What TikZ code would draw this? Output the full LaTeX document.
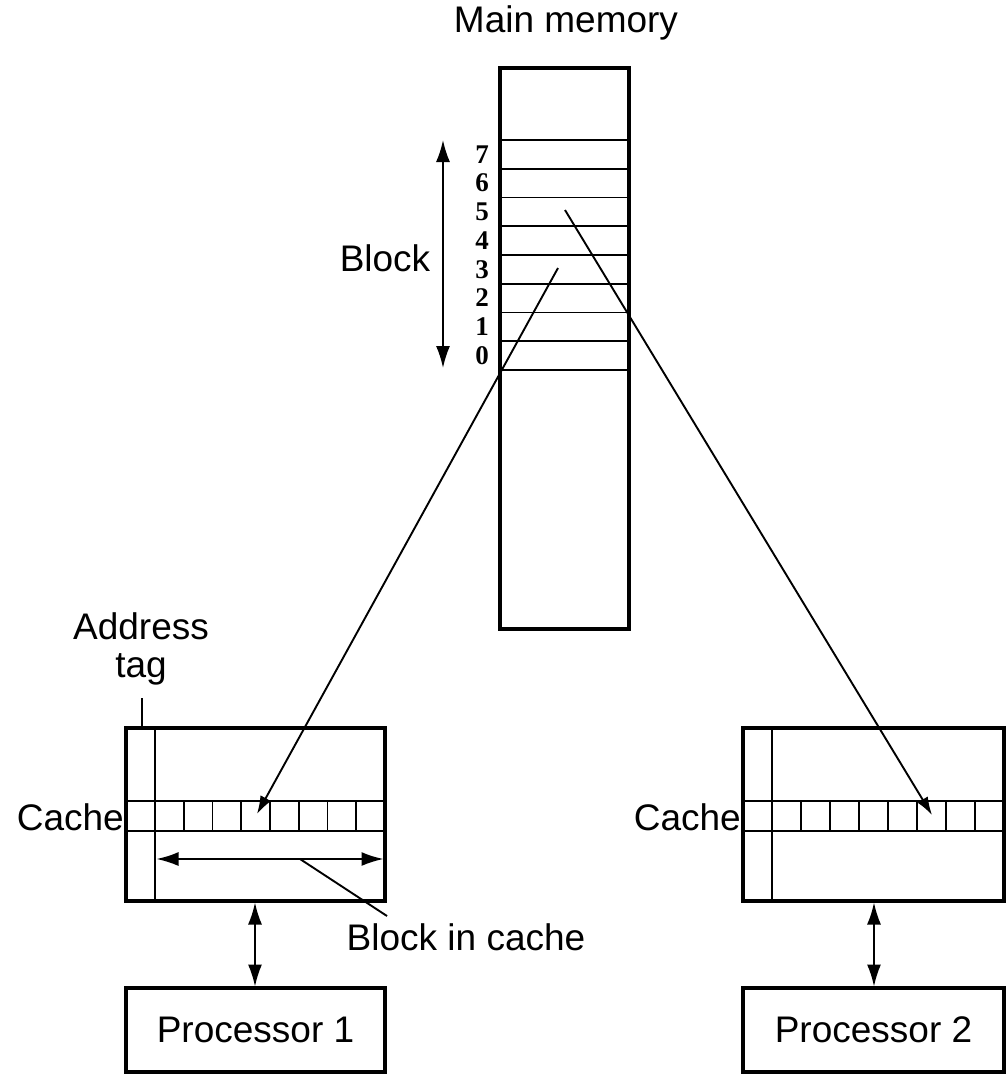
\documentclass[tikz,border=0pt]{standalone}
\usepackage{fontspec}
\setmainfont{Liberation Sans}
\newfontfamily\numfont{Liberation Serif}
\usetikzlibrary{arrows.meta}
\begin{document}
\begin{tikzpicture}[x=1pt,y=-1pt,
  box/.style={draw, line width=3.4pt, inner sep=0pt, outer sep=0pt},
  thinline/.style={line width=1.9pt},
  arr/.style={thinline, -{Latex[length=18pt,width=12pt]}},
  dbl/.style={thinline, {Latex[length=22pt,width=14pt]}-{Latex[length=22pt,width=14pt]}},
  lbl/.style={font=\fontsize{37}{38}\selectfont, inner sep=0pt},
  num/.style={font=\numfont\bfseries\fontsize{27}{27}\selectfont, inner sep=0pt}]
\useasboundingbox (0,0) rectangle (1007,1074);

% main memory
\node[box, minimum width=129pt, minimum height=561pt] (mem) at (564.5,348.5) {};
\node[lbl] (memlbl) at (566,23) {Main memory};
\foreach \k in {0,...,8}
  \draw[thinline] (500,{370-28.75*\k}) -- (629,{370-28.75*\k});
\foreach \k in {0,...,7}
  \node[num] (n\k) at (482,{355.5-28.75*\k}) {\k};
\coordinate (btop) at (443,140);
\coordinate (bbot) at (443,368);
\draw[dbl] (btop) -- (bbot);
\node[lbl] (blocklbl) at (385,258) {Block};

% cache 1
\node[box, minimum width=259pt, minimum height=173pt] (c1) at (255.5,814.5) {};
\draw[thinline] (155,728) -- (155,901);
\draw[thinline] (126,801) -- (385,801);
\draw[thinline] (126,831) -- (385,831);
\foreach \k in {1,...,7}
  \draw[thinline] ({155+28.75*\k},801) -- ({155+28.75*\k},831);
\node[lbl, anchor=east] (cache1) at (124,817) {Cache};
\coordinate (bl) at (156.5,859);
\coordinate (br) at (383.5,859);
\draw[dbl] (bl) -- (br);
\coordinate (leadA) at (300,859);
\coordinate (leadB) at (387,916);
\draw[thinline] (leadA) -- (leadB);
\node[lbl] (bic) at (466,937.5) {Block in cache};
\node[lbl, align=center] (addr) at (141,649) {Address\\tag};
\coordinate (tagA) at (142,698);
\coordinate (tagB) at (142,728);
\draw[thinline] (tagA) -- (tagB);

% cache 2
\node[box, minimum width=261pt, minimum height=173pt] (c2) at (873.5,814.5) {};
\draw[thinline] (772,728) -- (772,901);
\draw[thinline] (743,801) -- (1004,801);
\draw[thinline] (743,831) -- (1004,831);
\foreach \k in {1,...,7}
  \draw[thinline] ({772+29*\k},801) -- ({772+29*\k},831);
\node[lbl, anchor=east] (cache2) at (741,817) {Cache};

% processors
\node[box, minimum width=259pt, minimum height=84pt, lbl] (p1) at (255.5,1030) {Processor 1};
\node[box, minimum width=261pt, minimum height=84pt, lbl] (p2) at (873.5,1030) {Processor 2};
\draw[dbl] (255,902.5) coordinate (c1b) -- (255,986.5) coordinate (p1t);
\draw[dbl] (874,902.5) coordinate (c2b) -- (874,986.5) coordinate (p2t);

% mapping arrows
\coordinate (s1) at (558,268);
\coordinate (t1) at (257,814);
\coordinate (s2) at (565,210);
\coordinate (t2) at (932,815);
\draw[arr] (s1) -- (t1);
\draw[arr] (s2) -- (t2);
\end{tikzpicture}
\end{document}
